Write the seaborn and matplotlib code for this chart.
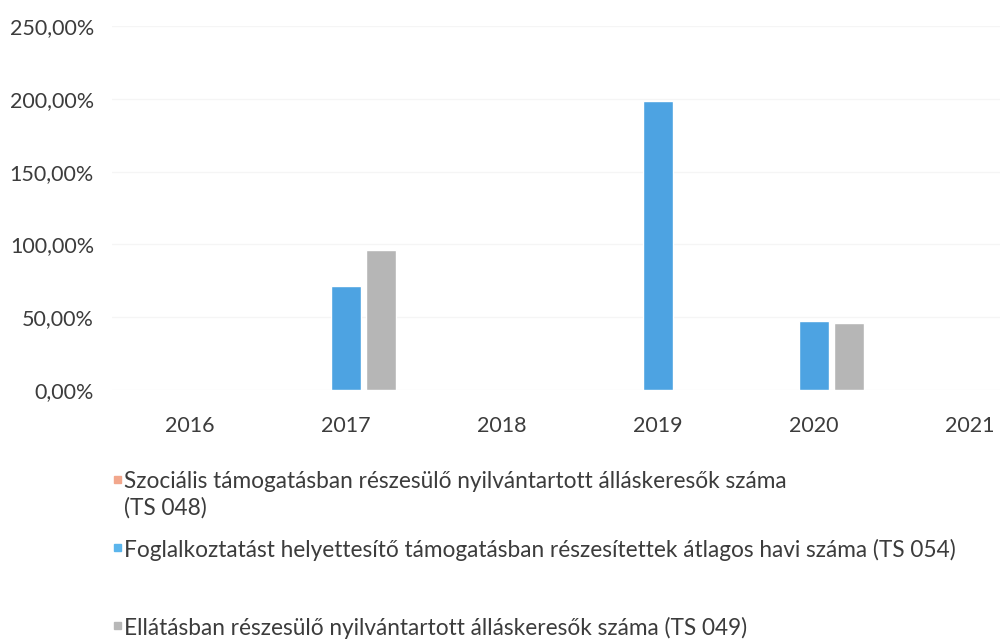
import numpy as np
import pandas as pd
import seaborn as sns
import matplotlib.pyplot as plt
from matplotlib.patches import Rectangle
from matplotlib.ticker import FuncFormatter

# data (percent)
years = ['2016', '2017', '2018', '2019', '2020', '2021']
series_names = [
    'Szociális támogatásban részesülő nyilvántartott álláskeresők száma (TS 048)',
    'Foglalkoztatást helyettesítő támogatásban részesítettek átlagos havi száma (TS 054)',
    'Ellátásban részesülő nyilvántartott álláskeresők száma (TS 049)',
]
ts048 = [np.nan, np.nan, np.nan, np.nan, np.nan, np.nan]
ts054 = [np.nan, 71.4, np.nan, 198.5, 47.4, np.nan]
ts049 = [np.nan, 96.2, np.nan, np.nan, 46.0, np.nan]
yticks = [0, 50, 100, 150, 200, 250]

colors = ['#F2A78C', '#4DA3E2', '#B6B6B6']
legend_colors = ['#F2A78C', '#5BB5EC', '#B8B8B8']

rows = []
for name, vals in zip(series_names, [ts048, ts054, ts049]):
    for y, v in zip(years, vals):
        rows.append({'year': y, 'series': name, 'value': v})
df = pd.DataFrame(rows)

sns.set_style('white')
plt.rcParams['font.family'] = ['Lato', 'DejaVu Sans']
text_color = '#3c3c3c'

fig = plt.figure(figsize=(10, 6.43), dpi=100)
ax = fig.add_axes([0.112, 0.3935, 0.936, 0.566])

sns.barplot(data=df, x='year', y='value', hue='series', order=years,
            hue_order=series_names, palette=dict(zip(series_names, colors)),
            saturation=1, width=0.673, gap=0.14, errorbar=None, legend=False, ax=ax)

ax.set_xlim(-0.5, 5.5)
ax.set_ylim(0, 250)
ax.set_yticks(yticks)
ax.yaxis.set_major_formatter(FuncFormatter(lambda v, p: f'{v:.2f}'.replace('.', ',') + '%'))
ax.grid(axis='y', color='#f5f5f5', lw=1)
ax.set_axisbelow(True)
ax.set_xlabel('')
ax.set_ylabel('')
ax.tick_params(axis='y', length=0, pad=13, labelsize=15.5, labelcolor=text_color)
ax.tick_params(axis='x', length=0, pad=19, labelsize=15.5, labelcolor=text_color)
sns.despine(ax=ax, left=True, bottom=True)

# legend below the chart
H = 643.0
W = 1000.0
legend_lines = [
    (482, 'Szociális támogatásban részesülő nyilvántartott álláskeresők száma', 0),
    (508, '(TS 048)', None),
    (550, 'Foglalkoztatást helyettesítő támogatásban részesítettek átlagos havi száma (TS 054)', 1),
    (628, 'Ellátásban részesülő nyilvántartott álláskeresők száma (TS 049)', 2),
]
for ypx, txt, ci in legend_lines:
    fig.text(124 / W, 1 - ypx / H, txt, ha='left', va='center',
             fontsize=16.3, color=text_color)
    if ci is not None:
        s = 7
        fig.patches.append(Rectangle((114 / W, 1 - (ypx - 3 + s / 2) / H), s / W, s / H,
                                     transform=fig.transFigure, color=legend_colors[ci]))

fig.savefig('out.png', dpi=100)
